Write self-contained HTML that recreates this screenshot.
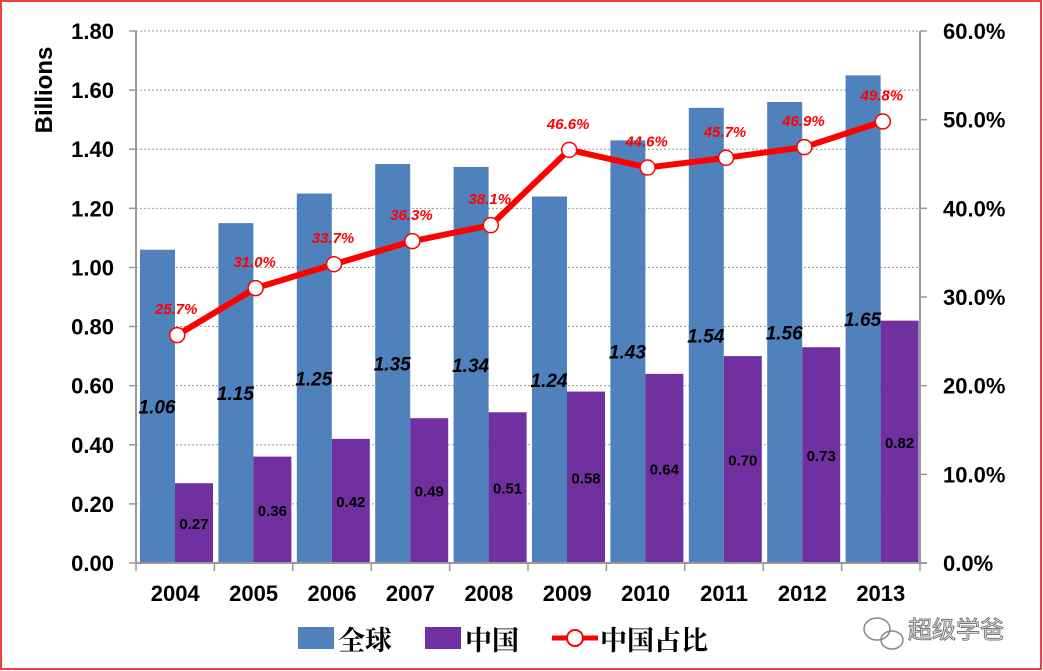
<!DOCTYPE html>
<html><head><meta charset="utf-8">
<style>
html,body{margin:0;padding:0;background:#fff;}
#wrap{position:relative;width:1043px;height:671px;overflow:hidden;}
svg text{font-family:"Liberation Sans",sans-serif;}
</style></head>
<body>
<div id="wrap">
<svg id="chart" width="1043" height="671" xmlns="http://www.w3.org/2000/svg">
<rect x="1" y="1" width="1040" height="668" fill="#fff" stroke="#f04040" stroke-width="2"/>
<g id="grid"></g>
<g id="bars"></g>
<g id="axes"></g>
<g id="line"></g>
<g id="labels"></g>
<text x="52" y="90" font-size="24" font-weight="bold" transform="rotate(-90 52 90)" text-anchor="middle">Billions</text>
<g font-family="'Liberation Serif','Noto Serif CJK SC',serif" font-weight="bold" font-size="27">
<rect x="298" y="627" width="36" height="22" fill="#4f81bd"/>
<text x="338" y="650" style="font-family:'Liberation Serif','Noto Serif CJK SC',serif">全球</text>
<rect x="425" y="627" width="36" height="22" fill="#7030a0"/>
<text x="465" y="650" style="font-family:'Liberation Serif','Noto Serif CJK SC',serif">中国</text>
<line x1="552" y1="638" x2="598" y2="638" stroke="#ff0000" stroke-width="5"/>
<circle cx="575" cy="638" r="8" fill="#fff" stroke="#ff0000" stroke-width="2"/>
<text x="600" y="650" style="font-family:'Liberation Serif','Noto Serif CJK SC',serif">中国占比</text>
</g>
<g fill="none" stroke="#888" stroke-width="1.5">
<ellipse cx="877" cy="629" rx="13" ry="11"/>
<ellipse cx="892" cy="640" rx="11" ry="9"/>
</g>
<text x="908" y="638" font-size="24" fill="#fff" stroke="#777" stroke-width="1" style="font-family:'Noto Sans CJK SC',sans-serif">超级学爸</text>
</svg>
</div>
<script>
const years=["2004","2005","2006","2007","2008","2009","2010","2011","2012","2013"];
const globalVals=[1.06,1.15,1.25,1.35,1.34,1.24,1.43,1.54,1.56,1.65];
const chinaVals=[0.27,0.36,0.42,0.49,0.51,0.58,0.64,0.70,0.73,0.82];
const shareVals=[25.7,31.0,33.7,36.3,38.1,46.6,44.6,45.7,46.9,49.8];
const leftTicks=[0,0.2,0.4,0.6,0.8,1.0,1.2,1.4,1.6,1.8];
const rightTicks=[0,10,20,30,40,50,60];

const NS="http://www.w3.org/2000/svg";
const X0=136,X1=920,Y0=563,Y1=31;
const band=(X1-X0)/years.length;
const yL=v=>Y0-(v/1.8)*(Y0-Y1);
const yR=v=>Y0-(v/60)*(Y0-Y1);
const xB=i=>X0+i*band;
function mk(tag,attrs,parent,txt){const e=document.createElementNS(NS,tag);for(const k in attrs)e.setAttribute(k,attrs[k]);if(txt!==undefined)e.textContent=txt;parent.appendChild(e);return e;}
const grid=document.getElementById('grid'),bars=document.getElementById('bars'),axes=document.getElementById('axes'),line=document.getElementById('line'),labels=document.getElementById('labels');

leftTicks.forEach(t=>{
  const y=yL(t);
  if(t>0){const g=mk('line',{x1:X0,x2:X1,y1:y,y2:y,stroke:'#999','stroke-dasharray':'2,2','stroke-width':1},grid);
  
  }
  const tk=mk('line',{x1:X0-7,x2:X0,y1:y,y2:y,stroke:'#999','stroke-width':1.5},axes);
  
  
  const tx=mk('text',{x:X0-22,y:y+8,'text-anchor':'end','font-size':22,'font-weight':'bold'},axes,t.toFixed(2));
  
  
});
rightTicks.forEach(t=>{
  const y=yR(t);
  const tk=mk('line',{x1:X1,x2:X1+7,y1:y,y2:y,stroke:'#999','stroke-width':1.5},axes);
  
  
  const tx=mk('text',{x:X1+23,y:y+8,'font-size':22,'font-weight':'bold'},axes,t.toFixed(1)+'%');
  
  
});
let a=mk('line',{x1:X0,x2:X0,y1:Y1,y2:Y0,stroke:'#999','stroke-width':2},axes);


a=mk('line',{x1:X1,x2:X1,y1:Y1,y2:Y0,stroke:'#999','stroke-width':2},axes);


a=mk('line',{x1:X0,x2:X1+7,y1:Y0,y2:Y0,stroke:'#999','stroke-width':2},axes);


for(let i=0;i<=years.length;i++){
  const t=mk('line',{x1:xB(i),x2:xB(i),y1:Y0,y2:Y0+8,stroke:'#999','stroke-width':1.5},axes);
  
  
}
years.forEach((yr,i)=>{
  const s=xB(i);
  const b=mk('rect',{x:s+4,y:yL(globalVals[i]),width:35,height:Y0-yL(globalVals[i]),fill:'#4f81bd'},bars);
  
  
  const c=mk('rect',{x:s+39,y:yL(chinaVals[i]),width:38,height:Y0-yL(chinaVals[i]),fill:'#7030a0'},bars);
  
  
  const gl=mk('text',{x:s+21,y:(yL(globalVals[i])+Y0)/2+7,'text-anchor':'middle','font-size':19,'font-weight':'bold','font-style':'italic'},labels,globalVals[i].toFixed(2));
  
  
  const cl=mk('text',{x:s+58,y:(yL(chinaVals[i])+Y0)/2+6,'text-anchor':'middle','font-size':15,'font-weight':'bold'},labels,chinaVals[i].toFixed(2));
  
  
  const xl=mk('text',{x:s+band/2,y:601,'text-anchor':'middle','font-size':22,'font-weight':'bold'},axes,yr);
  
  
});
const pts=shareVals.map((v,i)=>[xB(i)+band/2+2,yR(v)]);
const pl=mk('polyline',{points:pts.map(p=>p.join(',')).join(' '),fill:'none',stroke:'#ff0000','stroke-width':6,'stroke-linejoin':'round'},line);


pts.forEach((p,i)=>{
  const m=mk('circle',{cx:p[0],cy:p[1],r:7.5,fill:'#fff',stroke:'#ff0000','stroke-width':1.5},line);
  
  
  const t=mk('text',{x:p[0]-1,y:p[1]-21,'text-anchor':'middle','font-size':15,'font-weight':'bold','font-style':'italic',fill:'#ff0000'},labels,shareVals[i].toFixed(1)+'%');
  
  
});
</script>
</body></html>
